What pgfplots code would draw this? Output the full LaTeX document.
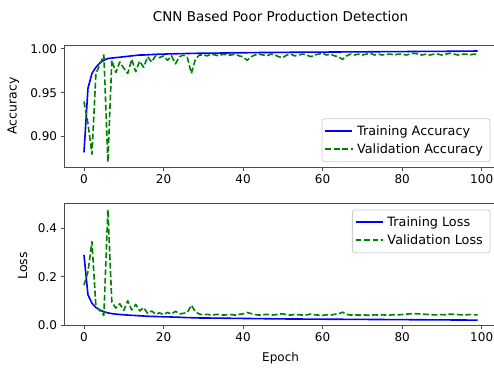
\documentclass[border=0pt]{standalone}
\usepackage{pgfplots}
\pgfplotsset{compat=1.18}
\usepackage{fontspec}
\setmainfont{DejaVu Sans}
\definecolor{mplblue}{RGB}{0,0,255}
\definecolor{mplgreen}{RGB}{0,128,0}
\definecolor{legframe}{RGB}{204,204,204}
\newcommand{\solidimg}{\textcolor{mplblue}{\rule[-0.8pt]{27pt}{1.6pt}}}
\newcommand{\dashimg}{\textcolor{mplgreen}{\rule[-0.8pt]{5.9pt}{1.6pt}\hspace{2.6pt}\rule[-0.8pt]{5.9pt}{1.6pt}\hspace{2.6pt}\rule[-0.8pt]{5.9pt}{1.6pt}\hspace{2.6pt}\rule[-0.8pt]{2.4pt}{1.6pt}}}
\pgfplotstableread{
ep ta va tl vl
0 0.882 0.940 0.290 0.165
1 0.955 0.915 0.125 0.220
2 0.972 0.880 0.090 0.345
3 0.979 0.972 0.072 0.075
4 0.984 0.982 0.062 0.060
5 0.987 0.993 0.055 0.040
6 0.989 0.871 0.050 0.478
7 0.9895 0.987 0.047 0.095
8 0.990 0.973 0.045 0.070
9 0.9905 0.985 0.0435 0.088
10 0.991 0.978 0.042 0.060
11 0.9915 0.972 0.041 0.100
12 0.992 0.988 0.040 0.062
13 0.9925 0.974 0.039 0.085
14 0.993 0.986 0.038 0.058
15 0.993 0.979 0.037 0.072
16 0.9932 0.991 0.036 0.048
17 0.9935 0.985 0.0355 0.058
18 0.9937 0.992 0.035 0.045
19 0.994 0.990 0.0345 0.050
20 0.994 0.992 0.034 0.043
21 0.9942 0.987 0.0335 0.052
22 0.9943 0.992 0.033 0.045
23 0.9944 0.983 0.0325 0.057
24 0.9945 0.991 0.032 0.046
25 0.9946 0.993 0.031 0.048
26 0.9947 0.990 0.0305 0.052
27 0.9948 0.972 0.030 0.082
28 0.9949 0.988 0.0295 0.055
29 0.995 0.993 0.029 0.045
30 0.995 0.993 0.029 0.042
31 0.995 0.992 0.0288 0.044
32 0.9951 0.994 0.0286 0.041
33 0.9951 0.993 0.0284 0.043
34 0.9952 0.992 0.0282 0.044
35 0.9953 0.994 0.028 0.041
36 0.9953 0.993 0.0278 0.042
37 0.9954 0.993 0.0276 0.043
38 0.9955 0.994 0.0274 0.041
39 0.9955 0.992 0.0272 0.044
40 0.9956 0.991 0.027 0.046
41 0.9956 0.987 0.0268 0.052
42 0.9957 0.991 0.0266 0.047
43 0.9957 0.993 0.0264 0.043
44 0.9958 0.994 0.0262 0.041
45 0.9958 0.993 0.026 0.042
46 0.9958 0.992 0.0258 0.044
47 0.9959 0.994 0.0256 0.041
48 0.9959 0.993 0.0254 0.042
49 0.996 0.991 0.0252 0.045
50 0.996 0.990 0.025 0.046
51 0.996 0.993 0.0249 0.042
52 0.9961 0.994 0.0248 0.041
53 0.9961 0.992 0.0247 0.044
54 0.9961 0.993 0.0246 0.042
55 0.9962 0.994 0.0245 0.041
56 0.9962 0.993 0.0244 0.042
57 0.9962 0.991 0.0243 0.045
58 0.9963 0.993 0.0242 0.042
59 0.9963 0.994 0.0241 0.041
60 0.9963 0.995 0.024 0.040
61 0.9963 0.993 0.0239 0.042
62 0.9964 0.994 0.0238 0.041
63 0.9964 0.992 0.0237 0.044
64 0.9964 0.991 0.0236 0.046
65 0.9965 0.988 0.0235 0.053
66 0.9965 0.992 0.0234 0.044
67 0.9965 0.994 0.0233 0.041
68 0.9966 0.993 0.0232 0.042
69 0.9966 0.994 0.0231 0.041
70 0.9966 0.993 0.023 0.042
71 0.9966 0.994 0.0229 0.041
72 0.9967 0.995 0.0228 0.040
73 0.9967 0.993 0.0227 0.042
74 0.9967 0.994 0.0226 0.041
75 0.9968 0.993 0.0225 0.042
76 0.9968 0.994 0.0224 0.041
77 0.9968 0.994 0.0223 0.041
78 0.9968 0.993 0.0222 0.043
79 0.9969 0.994 0.0221 0.042
80 0.9969 0.994 0.022 0.043
81 0.9969 0.993 0.0219 0.045
82 0.9970 0.994 0.0218 0.046
83 0.9970 0.995 0.0217 0.047
84 0.9970 0.994 0.0216 0.046
85 0.9971 0.993 0.0215 0.045
86 0.9971 0.994 0.0214 0.044
87 0.9971 0.993 0.0213 0.043
88 0.9972 0.994 0.0212 0.042
89 0.9972 0.994 0.0211 0.042
90 0.9972 0.993 0.021 0.043
91 0.9972 0.994 0.0209 0.042
92 0.9973 0.995 0.0208 0.045
93 0.9973 0.994 0.0207 0.044
94 0.9973 0.993 0.0206 0.043
95 0.9974 0.994 0.0205 0.042
96 0.9974 0.994 0.0204 0.042
97 0.9974 0.993 0.0203 0.043
98 0.9975 0.994 0.0202 0.042
99 0.9975 0.994 0.020 0.042
}\datatable
\begin{document}
\begin{tikzpicture}[x=1pt,y=1pt]
\useasboundingbox (0pt,0pt) rectangle (494pt,371pt);
\pgfplotsset{
  every axis/.append style={
    scale only axis,
    width=433.1pt,
    xmin=-4.95, xmax=103.95,
    xtick={0,20,40,60,80,100},
    font=\fontsize{12}{14}\selectfont,
    axis line style={black!70, line width=0.9pt},
    tick style={black!70, line width=0.9pt},
    tick align=outside,
    major tick length=3.7pt,
    xtick pos=bottom, ytick pos=left,
    /pgf/number format/assume math mode=true,
    legend cell align=left,
    legend style={draw=none, fill=none,
      inner xsep=3pt, inner ysep=4.5pt, row sep=3pt,
      nodes={inner xsep=4pt, inner ysep=2pt},
      font=\fontsize{12.8}{15}\selectfont},
  },
  trainline/.style={color=mplblue, line width=1.6pt, line join=round,
    legend image code/.code={\node[inner sep=0pt, anchor=west] at (0pt,0pt) {\solidimg};}},
  valline/.style={color=mplgreen, line width=1.6pt, dash pattern=on 5.9pt off 2.6pt, line join=round,
    legend image code/.code={\node[inner sep=0pt, anchor=west] at (0pt,0pt) {\dashimg};}},
}
\begin{axis}[
  at={(64.3pt,203.3pt)}, anchor=south west, height=122.7pt,
  ymin=0.8646, ymax=1.0044,
  ytick={0.90,0.95,1.00},
  yticklabel style={/pgf/number format/fixed, /pgf/number format/fixed zerofill, /pgf/number format/precision=2},
  legend style={at={(0.983,0.049)}, anchor=south east, name=legA},
]
\addplot[trainline] table[x=ep, y=ta] {\datatable};
\addlegendentry{Training Accuracy}
\addplot[valline] table[x=ep, y=va] {\datatable};
\addlegendentry{Validation Accuracy}
\end{axis}
\begin{axis}[
  at={(64.3pt,45.3pt)}, anchor=south west, height=121.8pt,
  ymin=-0.003, ymax=0.501,
  ytick={0,0.2,0.4},
  yticklabel style={/pgf/number format/fixed, /pgf/number format/fixed zerofill, /pgf/number format/precision=1},
  legend style={at={(0.983,0.95)}, anchor=north east, name=legB},
]
\addplot[trainline] table[x=ep, y=tl] {\datatable};
\addlegendentry{Training Loss}
\addplot[valline] table[x=ep, y=vl] {\datatable};
\addlegendentry{Validation Loss}
\end{axis}
\draw[legframe, line width=0.8pt, rounded corners=2.5pt] (legA.south west) rectangle (legA.north east);
\draw[legframe, line width=0.8pt, rounded corners=2.5pt] (legB.south west) rectangle (legB.north east);
\node[font=\fontsize{13.5}{16}\selectfont] at (280.6pt,355pt) {CNN Based Poor Production Detection};
\node[font=\fontsize{12}{14}\selectfont] at (280.6pt,13pt) {Epoch};
\node[font=\fontsize{12.5}{14}\selectfont, rotate=90] at (13.3pt,265pt) {Accuracy};
\node[font=\fontsize{12.5}{14}\selectfont, rotate=90] at (22.7pt,105pt) {Loss};
\end{tikzpicture}
\end{document}
